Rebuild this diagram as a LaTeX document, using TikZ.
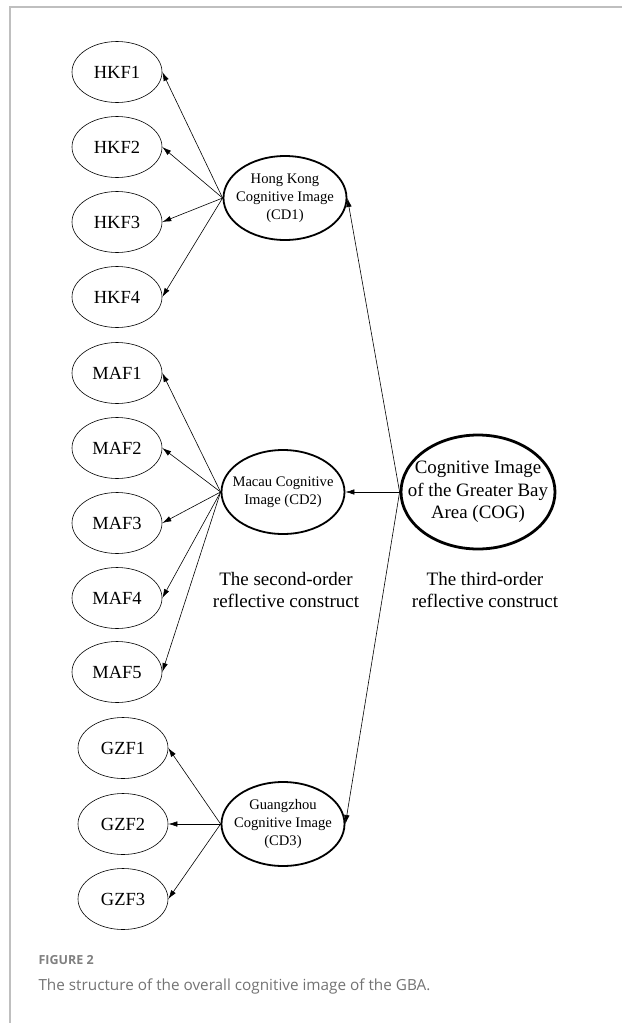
\documentclass[tikz,border=0pt]{standalone}
\usepackage{fontspec}
\setmainfont{Liberation Serif}
\newfontfamily\captionfont{Open Sans}
\usetikzlibrary{arrows.meta}
\usetikzlibrary{shapes.geometric}

\begin{document}
\begin{tikzpicture}[
		x=1pt,y=-1pt,
		>={Latex[length=9pt,width=5.5pt]},
		indicator/.style={draw,ellipse,line width=0.6pt,minimum width=90pt,minimum height=61pt,inner sep=0pt,font=\fontsize{18.5}{20}\selectfont},
		construct/.style={draw,ellipse,line width=1.8pt,minimum width=123pt,minimum height=84pt,inner sep=0pt},
		construct text/.style={align=center,font=\fontsize{14.6}{18}\selectfont},
		loading/.style={->,line width=0.6pt},
		note/.style={align=center,font=\fontsize{19}{21.7}\selectfont}
	]
	\useasboundingbox (0,0) rectangle (622,1023);
	\draw [black!25,line width=1.2pt] (10,1023) -- (10,7) -- (622,7);

	% third-order construct
	\node [draw,ellipse,line width=2.8pt,minimum width=154pt,minimum height=114pt,inner sep=0pt] (cog) at (478,492) {};
	\node [align=center,font=\fontsize{18.9}{22.5}\selectfont] (cog-text) at (cog.center) {Cognitive Image\\of the Greater Bay\\Area (COG)};

	% second-order constructs
	\node [construct] (cd1) at (285,198) {};
	\node [construct text] (cd1-text) at (cd1.center) {Hong Kong\\Cognitive Image\\(CD1)};
	\node [construct] (cd2) at (283,492) {};
	\node [construct text] (cd2-text) at (cd2.center) {Macau Cognitive\\Image (CD2)};
	\node [construct] (cd3) at (283,824) {};
	\node [construct text] (cd3-text) at (cd3.center) {Guangzhou\\Cognitive Image\\(CD3)};

	\draw [loading] (cog.west) -- (cd1.east);
	\draw [loading] (cog.west) -- (cd2.east);
	\draw [loading] (cog.west) -- (cd3.east);

	% first-order factors
	\foreach \i/\y in {1/72,2/147,3/222,4/297} {
		\node [indicator] (hkf\i) at (117,\y) {HKF\i};
		\draw [loading] (cd1.west) -- (hkf\i.east);
	}
	\foreach \i/\y in {1/373,2/448,3/523,4/598,5/672} {
		\node [indicator] (maf\i) at (117,\y) {MAF\i};
		\draw [loading] (cd2.west) -- (maf\i.east);
	}
	\foreach \i/\y in {1/748,2/824,3/899} {
		\node [indicator] (gzf\i) at (123,\y) {GZF\i};
		\draw [loading] (cd3.west) -- (gzf\i.east);
	}

	\node [note] (second) at (286,590) {The second-order\\reflective construct};
	\node [note] (third) at (485,590) {The third-order\\reflective construct};

	% caption
	\node [anchor=west,text=black!50,font=\captionfont\bfseries\fontsize{12.5}{14}\selectfont] (fig) at (35,960) {FIGURE 2};
	\node [anchor=west,text=black!55,font=\captionfont\fontsize{15.3}{18}\selectfont] (caption) at (35,986) {The structure of the overall cognitive image of the GBA.};
\end{tikzpicture}
\end{document}
